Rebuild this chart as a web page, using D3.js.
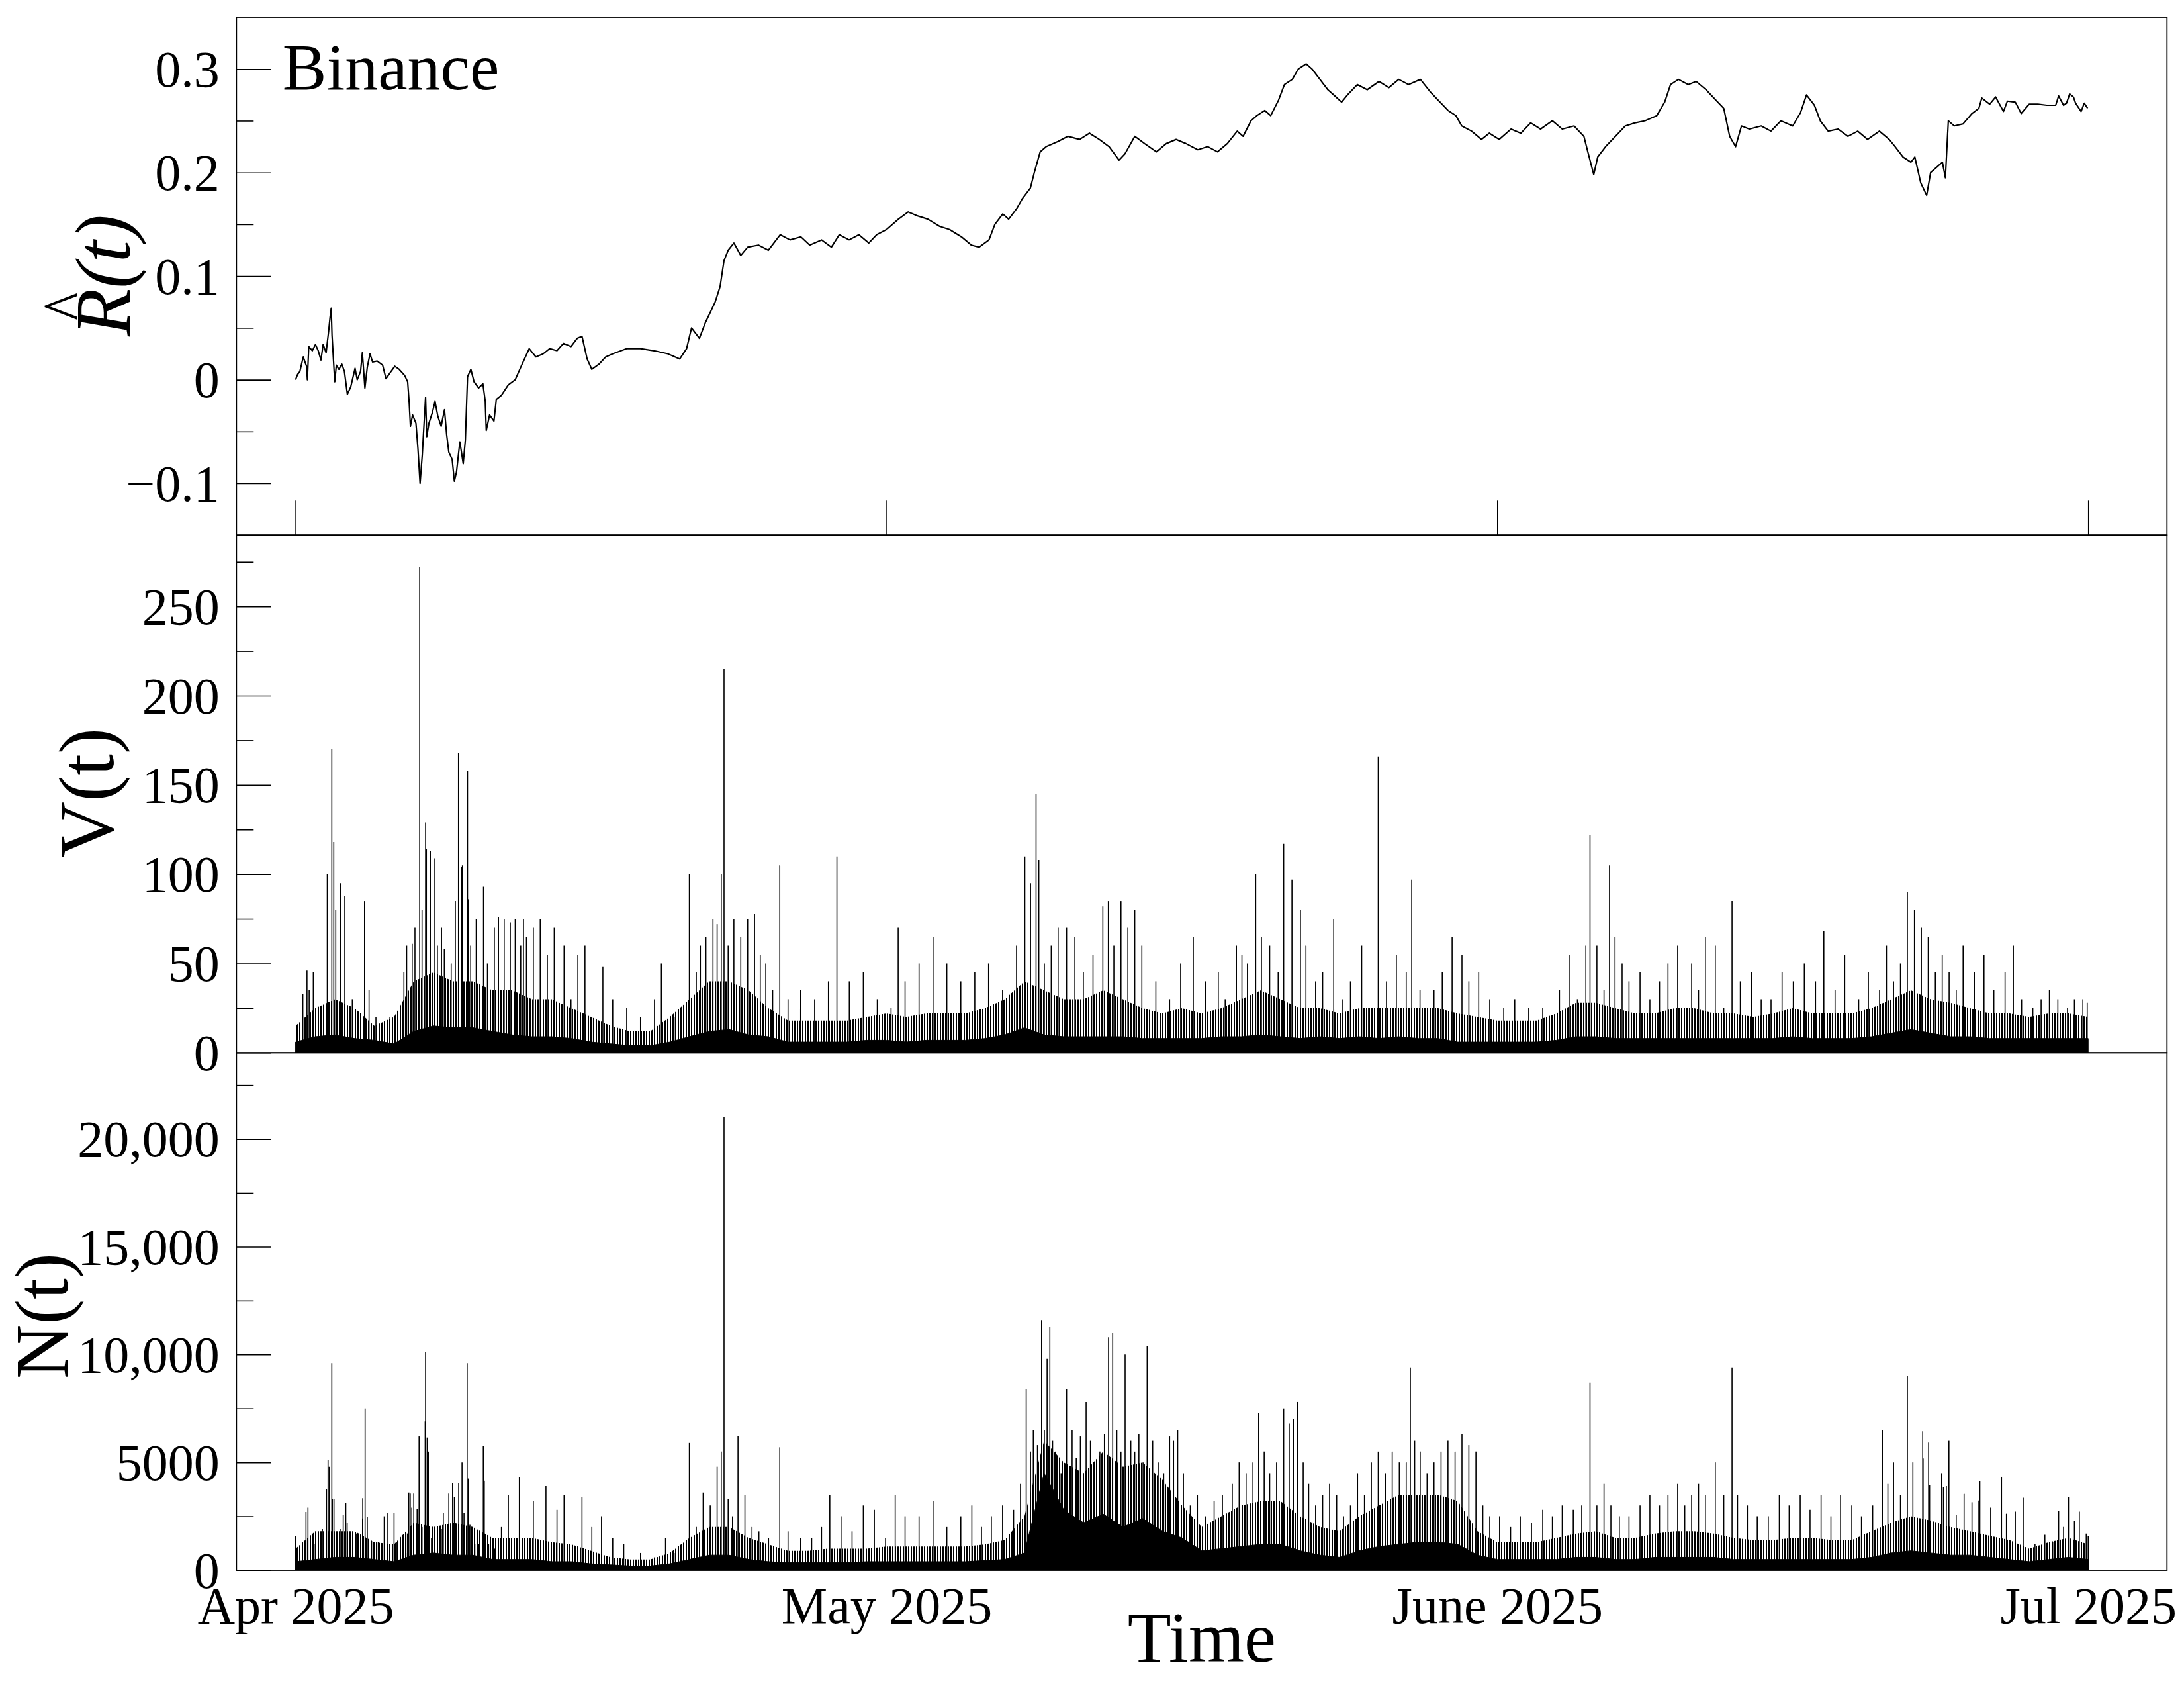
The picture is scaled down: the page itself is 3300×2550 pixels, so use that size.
<!DOCTYPE html>
<html><head><meta charset="utf-8">
<script src="https://cdn.jsdelivr.net/npm/d3@7"></script>
<style>
body{margin:0;background:#fff}
svg{display:block}
text{font-family:"Liberation Serif","Times New Roman",serif;fill:#000}
</style>
</head><body>
<svg id="chart" width="3300" height="2550"></svg>
<script>
// ---------------- DATA ----------------
const exchangeName = "Binance";
const xTickDates = ["2025-04-01","2025-05-01","2025-06-01","2025-07-01"];
const xTickLabels = ["Apr 2025","May 2025","June 2025","Jul 2025"];
const rTicks = [-0.1,0,0.1,0.2,0.3];
const rTickLabels = ["\u22120.1","0","0.1","0.2","0.3"];
const rMinor = [-0.05,0.05,0.15,0.25];
const vTicks = [0,50,100,150,200,250];
const vTickLabels = ["0","50","100","150","200","250"];
const vMinor = [25,75,125,175,225,275];
const nTicks = [0,5000,10000,15000,20000];
const nTickLabels = ["0","5000","10,000","15,000","20,000"];
const nMinor = [2500,7500,12500,17500,22500];

// cumulative return R(t): day offset from 2025-04-01 00:00 UTC, value
const rDay = [0,0.1,0.22,0.39,0.5,0.56,0.6,0.67,0.85,1.01,1.15,1.29,1.4,1.55,1.68,1.75,1.81,1.85,1.99,2.07,2.2,2.35,2.48,2.63,2.8,3.02,3.13,3.3,3.39,3.52,3.64,3.78,3.91,4.14,4.42,4.59,4.81,5.04,5.26,5.54,5.69,5.77,5.83,5.94,6.11,6.21,6.32,6.43,6.6,6.66,6.77,6.94,7.08,7.22,7.39,7.56,7.67,7.78,7.95,8.06,8.17,8.34,8.51,8.62,8.73,8.9,9.06,9.29,9.51,9.63,9.68,9.85,10.07,10.19,
10.45,10.8,11.15,11.5,11.86,12.2,12.57,12.9,13.27,13.6,13.98,14.3,14.54,14.8,15.04,15.4,15.74,16.1,16.8,17.5,18.2,18.9,19.5,19.85,20.1,20.5,20.8,21.05,21.3,21.55,21.75,21.96,22.25,22.6,22.95,23.5,24.0,24.6,25.1,25.65,26.1,26.7,27.2,27.6,28.1,28.6,29.1,29.5,30.0,30.6,31.1,31.6,32.1,32.7,33.2,33.8,34.3,34.7,35.2,35.5,35.9,36.2,36.6,36.9,37.3,37.5,37.8,38.1,38.7,39.2,39.8,40.3,40.8,41.3,41.8,42.1,42.6,43.1,43.7,44.2,44.7,45.2,45.8,46.3,46.8,47.3,47.8,48.1,48.5,48.8,49.2,49.5,49.9,50.2,50.6,50.9,51.3,51.6,52.0,52.4,52.7,53.1,53.4,53.9,54.4,55.0,55.5,56.0,56.5,57.1,57.6,58.0,58.5,58.9,59.2,59.7,60.2,60.6,61.1,61.7,62.2,62.7,63.2,63.8,64.3,64.9,65.4,65.6,65.9,66.1,66.5,67.0,67.5,68.0,68.5,69.1,69.5,69.8,70.2,70.7,71.1,71.6,72.1,72.5,72.8,73.1,73.4,73.8,74.4,74.9,75.4,76.0,76.4,76.7,77.1,77.4,77.8,78.3,78.8,79.3,79.8,80.4,80.9,81.2,81.6,82.0,82.2,82.5,82.8,83.0,83.3,83.6,83.75,83.9,84.2,84.65,85.1,85.45,85.6,86.0,86.3,86.7,86.9,87.3,87.6,88.0,88.45,88.9,89.35,89.5,89.75,89.9,90.06,90.25,90.36,90.64,90.8,90.97];
const rVal = [0.0,0.005,0.008,0.022,0.016,0.013,0.0,0.032,0.028,0.034,0.028,0.019,0.034,0.026,0.047,0.06,0.069,0.043,-0.002,0.014,0.01,0.015,0.008,-0.014,-0.007,0.011,0.0,0.008,0.026,-0.008,0.012,0.025,0.017,0.018,0.014,0.001,0.007,0.013,0.01,0.004,-0.002,-0.023,-0.045,-0.034,-0.042,-0.066,-0.1,-0.073,-0.017,-0.055,-0.042,-0.032,-0.021,-0.035,-0.045,-0.029,-0.053,-0.07,-0.077,-0.098,-0.089,-0.06,-0.081,-0.058,0.003,0.01,-0.002,-0.008,-0.004,-0.021,-0.049,-0.034,-0.04,-0.019,
-0.015,-0.005,0.0,0.015,0.03,0.022,0.025,0.03,0.028,0.035,0.032,0.04,0.042,0.02,0.01,0.015,0.022,0.025,0.03,0.03,0.028,0.025,0.02,0.03,0.05,0.04,0.055,0.065,0.075,0.09,0.115,0.125,0.132,0.12,0.128,0.13,0.125,0.14,0.135,0.138,0.13,0.135,0.128,0.14,0.135,0.14,0.132,0.14,0.145,0.155,0.162,0.158,0.155,0.148,0.145,0.138,0.13,0.128,0.135,0.15,0.16,0.155,0.165,0.175,0.185,0.2,0.22,0.225,0.23,0.235,0.232,0.238,0.232,0.225,0.212,0.218,0.235,0.228,0.22,0.228,0.232,0.228,0.222,0.225,0.22,0.228,0.24,0.235,0.25,0.255,0.26,0.255,0.27,0.285,0.29,0.3,0.305,0.3,0.29,0.28,0.275,0.268,0.275,0.285,0.28,0.288,0.282,0.29,0.285,0.29,0.278,0.27,0.26,0.255,0.245,0.24,0.232,0.238,0.232,0.242,0.238,0.248,0.242,0.25,0.242,0.245,0.235,0.22,0.198,0.215,0.225,0.235,0.245,0.248,0.25,0.255,0.268,0.285,0.29,0.285,0.288,0.28,0.27,0.262,0.235,0.225,0.245,0.242,0.245,0.24,0.25,0.245,0.258,0.275,0.265,0.25,0.24,0.242,0.235,0.24,0.232,0.24,0.232,0.225,0.215,0.21,0.215,0.19,0.178,0.2,0.205,0.21,0.195,0.25,0.245,0.247,0.257,0.262,0.272,0.266,0.273,0.259,0.269,0.268,0.257,0.266,0.266,0.265,0.265,0.274,0.265,0.267,0.276,0.273,0.267,0.259,0.267,0.262];

// Volume V(t): daily solid-base level, daily dense-hair level (day 0..91), and individual spikes
const vBase = [6,9,10,8,7,5,12,15,14,14,12,10,9,9,8,6,5,4,4,6,9,12,13,10,9,6,6,6,6,7,7,6,7,7,7,8,10,14,10,9,9,9,9,8,8,8,8,9,9,10,9,8,9,8,9,8,9,8,8,6,6,6,6,6,7,9,9,8,8,8,8,8,8,8,8,8,9,8,8,8,9,11,13,11,9,9,8,8,8,8,8,8];
const vHair = [15,25,30,25,15,20,40,45,40,40,35,35,30,30,25,20,15,12,12,20,30,40,40,35,25,18,18,18,18,20,22,20,22,22,22,25,30,40,35,30,30,35,30,25,22,25,22,25,30,35,30,25,25,22,25,25,25,25,25,22,20,18,18,18,22,28,28,25,22,22,25,25,22,22,20,22,25,22,22,22,25,30,35,30,28,25,22,22,20,22,22,20];
const vSpikeDay = [0.37,0.58,0.69,0.9,1.61,1.84,1.94,2.04,2.29,2.5,2.88,3.5,3.73,4.08,4.79,5.5,5.64,5.92,6.06,6.3,6.42,6.6,6.64,6.84,7.07,7.2,7.41,7.55,7.9,8.11,8.27,8.44,8.47,8.73,8.76,8.89,9.17,9.54,9.74,10.09,10.3,10.59,10.9,11.15,11.43,11.57,11.72,12.07,12.42,12.78,13.13,13.63,13.98,14.33,14.69,15.04,15.6,16.1,16.81,17.51,18.22,18.57,19.28,19.99,20.34,20.55,20.83,21.19,21.4,21.61,21.75,21.96,22.25,22.6,22.95,23.3,23.59,23.87,24.22,24.58,25.0,25.64,26.35,27.05,27.48,28.11,28.82,29.53,30.23,30.59,30.94,31.65,32.36,33.06,33.77,34.48,35.18,35.89,36.6,37.02,37.31,37.59,37.73,38.01,38.36,38.71,39.14,39.56,39.99,40.48,40.98,41.26,41.54,41.9,42.25,42.6,42.96,43.67,44.37,44.93,45.57,46.2,46.84,47.19,47.76,48.04,48.32,48.74,49.03,49.45,49.88,50.16,50.58,51.01,51.29,51.78,52.14,52.7,53.13,53.55,54.12,54.47,54.96,55.38,55.88,56.38,56.66,57.08,57.79,58.21,58.71,59.21,59.56,60.06,60.62,61.33,61.89,62.6,63.31,63.8,64.16,64.65,65.07,65.5,65.71,66.06,66.42,66.7,66.98,67.34,67.69,68.25,68.75,69.24,69.67,70.16,70.87,71.22,71.58,72.07,72.5,72.92,73.34,73.91,74.4,74.9,75.46,76.03,76.59,77.16,77.58,78.15,78.64,79.35,79.84,80.41,80.76,81.12,81.47,81.82,82.18,82.53,82.88,83.24,83.59,83.94,84.3,84.65,85.22,85.71,86.21,86.78,87.2,87.62,88.19,88.61,89.03,89.46,89.95,90.3,90.73,90.95];
const vSpikeVal = [33,46,35,45,100,170,118,80,95,88,30,85,35,20,20,45,60,61,70,272,80,129,114,113,109,60,70,58,50,85,168,104,105,158,86,60,75,93,50,70,76,75,73,75,60,75,65,70,75,55,70,60,30,55,60,20,48,30,25,20,30,50,20,100,45,60,65,75,72,100,215,60,75,65,75,78,55,50,35,105,30,35,30,40,110,40,45,30,25,70,40,50,65,50,40,45,50,35,60,110,95,145,108,50,60,70,70,65,45,55,82,85,60,85,70,80,60,40,30,50,65,40,45,30,60,55,50,100,65,60,45,117,97,80,60,40,45,75,30,40,60,25,166,40,55,45,97,35,35,45,65,55,40,45,30,25,30,25,25,20,35,55,30,60,122,60,35,105,65,50,40,45,30,40,50,60,50,35,65,60,25,85,40,45,30,30,45,40,50,40,68,35,55,30,45,35,60,40,50,90,80,70,65,45,55,45,35,60,45,55,35,45,60,30,25,30,35,30,25,30,30,28];

// Trade count N(t): daily solid-base level, daily dense-hair level (day 0..91), and individual spikes
const nBase = [400,500,600,600,500,400,700,800,700,700,500,500,500,400,400,300,250,200,200,300,500,700,700,500,400,350,350,350,350,400,400,400,400,400,400,450,500,800,4500,2800,2200,2600,2000,2400,1800,1500,900,1000,1100,1200,1200,900,700,600,900,1100,1200,1300,1300,1200,700,500,500,500,500,600,600,500,500,600,600,600,600,500,500,500,500,500,500,500,600,800,900,800,700,700,600,500,400,500,600,500];
const nHair = [1000,1800,1800,1800,1300,1200,2200,2000,2200,2000,1500,1500,1500,1300,1200,900,600,500,500,800,1500,2000,2000,1500,1200,900,900,1000,1000,1000,1100,1100,1100,1100,1100,1200,1400,2500,6000,5000,4500,5500,4800,5000,4200,3000,2000,2500,3000,3200,3200,2500,2000,1800,2500,3000,3500,3500,3500,3200,1800,1300,1300,1300,1500,1700,1800,1500,1500,1700,1800,1800,1700,1500,1400,1400,1500,1500,1400,1400,1800,2200,2500,2300,2000,1800,1600,1400,1000,1300,1500,1200];
const nSpikeDay = [0.0,0.53,0.63,1.0,1.3,1.36,1.57,1.65,1.7,1.84,1.87,1.95,2.3,2.42,2.55,2.62,3.1,3.4,3.41,3.53,3.64,3.86,4.2,4.5,4.65,5.0,5.15,5.6,5.68,5.75,5.82,5.9,6.0,6.17,6.27,6.42,6.58,6.6,6.68,6.74,6.9,7.1,7.3,7.4,7.5,7.78,7.97,8.06,8.28,8.45,8.55,8.71,8.76,8.85,9.1,9.3,9.53,9.58,9.8,10.1,
10.45,10.8,11.36,12.07,12.71,13.27,13.63,14.54,15.04,15.53,16.1,16.66,17.51,18.22,18.78,19.28,19.99,20.34,20.69,21.05,21.4,21.61,21.75,21.96,22.18,22.46,22.81,23.17,23.52,24.01,24.58,25.0,25.64,26.2,26.7,27.12,27.69,28.25,28.82,29.38,29.95,30.44,30.94,31.65,32.36,33.06,33.77,34.33,34.82,35.32,35.89,36.45,36.8,37.09,37.31,37.45,37.66,37.87,38.01,38.15,38.29,38.43,38.57,38.86,39.14,39.42,39.63,39.84,40.13,40.35,40.56,40.83,41.06,41.27,41.48,41.69,41.9,42.11,42.4,42.6,42.81,43.02,43.23,43.51,43.79,44.07,44.37,44.57,44.78,45.07,45.42,45.78,46.2,46.63,47.05,47.55,47.9,48.25,48.6,48.89,49.17,49.45,49.8,50.16,50.44,50.65,50.86,51.15,51.43,51.78,52.14,52.49,52.85,53.2,53.55,53.91,54.26,54.61,54.96,55.32,55.67,56.03,56.38,56.59,56.81,57.09,57.44,57.79,58.15,58.5,58.86,59.21,59.56,59.92,60.27,60.62,61.12,61.68,62.17,62.74,63.31,63.8,64.3,64.86,65.29,65.71,66.06,66.42,66.77,67.2,67.69,68.25,68.75,69.24,69.67,70.16,70.52,70.87,71.22,71.58,72.07,72.5,72.92,73.2,73.7,74.2,74.76,75.32,75.82,76.38,76.88,77.44,77.94,78.43,79.0,79.49,80.06,80.55,80.83,81.12,81.47,81.82,82.1,82.6,82.62,82.9,82.95,83.56,83.65,83.8,83.93,84.3,84.7,85.1,85.45,85.5,86.05,86.6,86.85,87.3,87.7,88.3,88.8,89.2,89.5,89.75,90.0,90.3,90.55,90.9,91.0];
const nSpikeVal = [1600,2700,2900,1200,1350,1900,3750,5100,4800,9600,3300,3300,1900,2550,3130,2200,1700,2400,3340,7500,2480,1350,1300,2500,2650,2640,1300,800,1700,3600,3550,2900,3550,2850,6200,2000,6900,10100,6150,5500,1500,800,2000,1900,2650,3550,4050,3400,4050,5000,2650,9600,4250,2100,1200,1200,5750,4150,1200,1000,
2000,3500,4300,3200,3900,2800,3500,3400,2000,2500,1500,1200,800,600,1500,800,5900,2000,3600,3000,4800,5500,21000,3300,2500,6200,3500,2000,1800,1500,5700,1800,1500,1500,2000,3500,2500,1800,3000,2800,1500,3500,2500,2500,3200,2000,2500,3000,2000,2500,3000,2800,4000,8400,5500,6500,5800,11600,6500,9800,11300,6000,5500,4500,8400,6500,5200,6200,7800,6000,5000,5500,6300,10800,11000,6500,5500,10000,6000,5500,6300,5000,10400,6000,5000,4500,6200,6000,6500,4500,3000,3500,2500,3200,3500,4000,5000,4500,5000,7300,5500,4500,5000,7500,6800,7000,7800,5000,4000,3000,3500,4000,3500,2500,3000,4500,3500,5000,5500,4500,5500,5000,5000,9400,6000,5500,4500,5000,5500,6000,5500,6300,5800,5500,3000,2500,2500,2000,2500,2200,2800,2500,3000,2800,3000,8700,3000,4000,3000,2500,2500,3000,3500,3000,3500,4000,3000,3500,4000,3500,5000,3500,9400,3500,3000,2500,2500,3500,3000,3500,2800,3500,2500,3500,3000,2500,3000,6500,4000,5000,3500,9000,5000,6440,5180,5920,3950,4500,3850,3900,6000,2570,3540,3150,3230,4130,2900,4330,2620,2720,3360,1200,1640,1300,2750,2000,3380,2290,2720,1700,1600];

// ---------------- LAYOUT ----------------
const svg = d3.select("#chart");
const L = 357.3, R = 3274.3;
const P = [{top:26, bot:808.3},{top:808.3, bot:1590.3},{top:1590.3, bot:2372}];
const FS_TICK = 78, MAJ = 52, MIN = 26, PAD = 25.6;
const FONT = '"Liberation Serif","Times New Roman",serif';
const t0 = Date.UTC(2025,3,1);
const toDate = d => new Date(t0 + d*864e5);

const x = d3.scaleUtc()
  .domain([new Date(Date.UTC(2025,2,29)), new Date(Date.UTC(2025,6,5))])
  .range([L, R]);
const yR = d3.scaleLinear().domain([-0.15,0.35]).range([P[0].bot, P[0].top]);
const yV = d3.scaleLinear().domain([0,290]).range([P[1].bot, P[1].top]);
const yN = d3.scaleLinear().domain([0,24000]).range([P[2].bot, P[2].top]);

// clip paths + hair pattern
const defs = svg.append("defs");
P.forEach((p,i)=>{
  defs.append("clipPath").attr("id","clip"+i).append("rect")
    .attr("x",L).attr("y",p.top).attr("width",R-L).attr("height",p.bot-p.top);
});
const pat = defs.append("pattern").attr("id","hair").attr("patternUnits","userSpaceOnUse")
  .attr("width",4).attr("height",20);
pat.append("rect").attr("x",0).attr("y",0).attr("width",2).attr("height",20).attr("fill","#000");

// ---- Panel 1: R(t) line
const rData = rDay.map((d,i)=>({t:toDate(d), v:rVal[i]}));
svg.append("g").attr("clip-path","url(#clip0)").append("path")
  .datum(rData)
  .attr("fill","none").attr("stroke","#000").attr("stroke-width",2.2)
  .attr("stroke-linejoin","round")
  .attr("d", d3.line().x(d=>x(d.t)).y(d=>yR(d.v)));

// ---- Panel 2 & 3: hair layer, dense base, spikes
function spikePanel(idx, yScale, base, hair, sDay, sVal){
  const g = svg.append("g").attr("clip-path","url(#clip"+idx+")");
  const hData = hair.map((v,i)=>({t:toDate(i), v}));
  g.append("path").datum(hData)
    .attr("fill","url(#hair)").attr("stroke","none")
    .attr("d", d3.area().x(d=>x(d.t)).y0(yScale(0)).y1(d=>yScale(d.v)));
  const bData = base.map((v,i)=>({t:toDate(i), v}));
  g.append("path").datum(bData)
    .attr("fill","#000").attr("stroke","#000").attr("stroke-width",1)
    .attr("d", d3.area().x(d=>x(d.t)).y0(yScale(0)).y1(d=>yScale(d.v)));
  const sData = sDay.map((d,i)=>({t:toDate(d), v:sVal[i]}));
  g.selectAll("line.sp").data(sData).join("line").attr("class","sp")
    .attr("x1",d=>x(d.t)).attr("x2",d=>x(d.t))
    .attr("y1",yScale(0)).attr("y2",d=>yScale(d.v))
    .attr("stroke","#000").attr("stroke-width",1.6);
}
spikePanel(1, yV, vBase, vHair, vSpikeDay, vSpikeVal);
spikePanel(2, yN, nBase, nHair, nSpikeDay, nSpikeVal);

// ---- Y axes (ticks inward) — major and minor in separate groups
function yAxis(scale, major, labels, minor){
  const gMaj = svg.append("g").attr("transform",`translate(${L},0)`);
  gMaj.call(d3.axisLeft(scale).tickValues(major).tickSize(-MAJ).tickPadding(PAD)
      .tickFormat((d,i)=>labels[i]));
  const gMin = svg.append("g").attr("transform",`translate(${L},0)`);
  gMin.call(d3.axisLeft(scale).tickValues(minor).tickSize(-MIN).tickFormat(""));
  [gMaj,gMin].forEach(g=>{
    g.selectAll(".domain").remove();
    g.selectAll("line").attr("stroke","#000").attr("stroke-width",1.6);
  });
  gMaj.selectAll("text").attr("font-size",FS_TICK).attr("font-family",FONT)
    .attr("dy","0.335em").attr("fill","#000");
}
yAxis(yR, rTicks, rTickLabels, rMinor);
yAxis(yV, vTicks, vTickLabels, vMinor);
yAxis(yN, nTicks, nTickLabels, nMinor);

// ---- X ticks on top panel (inward from its bottom)
const xTickVals = xTickDates.map(s=>new Date(s+"T00:00:00Z"));
const gx = svg.append("g").attr("transform",`translate(0,${P[0].bot})`);
gx.call(d3.axisBottom(x).tickValues(xTickVals).tickSize(-MAJ).tickFormat(""));
gx.selectAll(".domain").remove();
gx.selectAll("line").attr("stroke","#000").attr("stroke-width",1.6);

// ---- X tick labels under bottom panel
const gxl = svg.append("g").attr("transform",`translate(0,${P[2].bot})`);
gxl.call(d3.axisBottom(x).tickValues(xTickVals).tickSize(0).tickFormat((d,i)=>xTickLabels[i]));
gxl.selectAll(".domain").remove();
gxl.selectAll("text").attr("y",80).attr("dy",0).attr("font-size",FS_TICK)
  .attr("font-family",FONT).attr("fill","#000");

// ---- frames
P.forEach(p=>{
  svg.append("rect").attr("x",L).attr("y",p.top).attr("width",R-L).attr("height",p.bot-p.top)
    .attr("fill","none").attr("stroke","#000").attr("stroke-width",1.8);
});

// ---- labels
svg.append("text").attr("x",426.7).attr("y",135).attr("font-size",100).text(exchangeName);
svg.append("text").attr("x",(L+R)/2).attr("y",2510).attr("text-anchor","middle")
  .attr("font-size",108).text("Time");

svg.append("text").attr("transform","translate(196,416) rotate(-90)")
  .attr("text-anchor","middle").attr("font-size",118).attr("font-style","italic").text("R(t)");
svg.append("text").attr("transform","translate(136,463) rotate(-90) scale(1,1.16)")
  .attr("text-anchor","middle").attr("font-size",90).text("^");
svg.append("text").attr("transform","translate(171,1198) rotate(-90)")
  .attr("text-anchor","middle").attr("font-size",118).text("V(t)");
svg.append("text").attr("transform","translate(102,1988) rotate(-90)")
  .attr("text-anchor","middle").attr("font-size",114).text("N(t)");
</script>
</body></html>
